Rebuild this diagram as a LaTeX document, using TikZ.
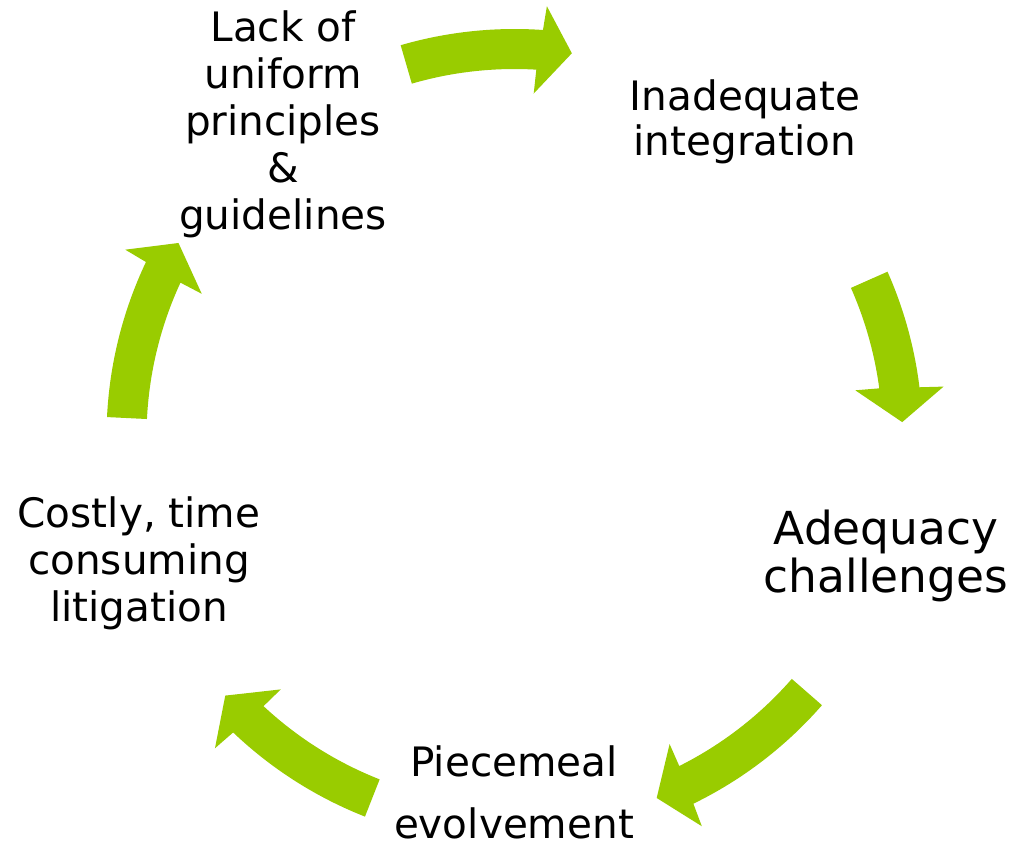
\documentclass[tikz,border=0pt]{standalone}
\usepackage{fontspec}
\setmainfont{DejaVu Sans}
\definecolor{cyclegreen}{RGB}{153,204,0}
\tikzset{
  cyclearrow/.style={fill=cyclegreen, draw=none},
  lbl/.style={align=center, inner sep=0pt, text=black,
    execute at begin node={\strut}, execute at end node={\strut}},
  lblmain/.style={lbl, font=\fontsize{30.4}{35.25}\selectfont},
}
% Curved block arrow on the ring, running clockwise.
% #1 = tail angle, #2 = angle of the head base, #3 = angle of the tip
\newcommand{\ringarrow}[3]{%
  \fill[cyclearrow]
    ({#1}:408) arc[start angle={#1}, end angle={#2-0.3}, radius=408]
    -- ({#2-0.6}:432) -- ({#3}:388) -- ({#2+0.5}:344)
    -- ({#2+0.3}:368) arc[start angle={#2+0.3}, end angle={#1}, radius=368]
    -- cycle;}
\begin{document}
\begin{tikzpicture}[x=0.75pt,y=0.75pt]
  \useasboundingbox (0,0) rectangle (1018,851);
  \fill[white] (0,0) rectangle (1018,851);
  \coordinate (ring) at (514.5,414);

  % arrows of the cycle
  \begin{scope}[shift={(ring)}]
    \ringarrow{106.2}{86.3}{81.5}
    \ringarrow{23.9}{7.3}{2.2}
    \ringarrow{-41.1}{-63.7}{-68.5}
    \ringarrow{-111.5}{-133.3}{-138.2}
    \ringarrow{177.2}{154.9}{150}
  \end{scope}

  % stages
  \node[lblmain] (lack) at (283,723.4)
    {Lack of\\uniform\\principles\\\&\\guidelines};
  \node[lbl, font=\fontsize{30.4}{33.75}\selectfont] (integ) at (745,726.5)
    {Inadequate\\integration};
  \node[lbl, font=\fontsize{34.1}{36}\selectfont] (adeq) at (886,292.6)
    {Adequacy\\challenges};
  \node[lbl, font=\fontsize{30.4}{46.5}\selectfont] (piece) at (514,49.4)
    {Piecemeal\\evolvement};
  \node[lblmain] (costly) at (139,284.4)
    {Costly, time\\consuming\\litigation};
\end{tikzpicture}
\end{document}
